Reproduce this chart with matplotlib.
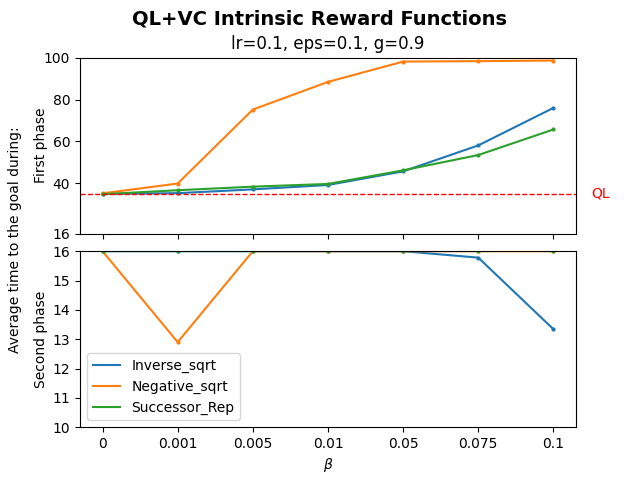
import numpy as np
import matplotlib
matplotlib.use("Agg")
import matplotlib.pyplot as plt

# beta values (categorical x axis)
betas = ['0', '0.001', '0.005', '0.01', '0.05', '0.075', '0.1']

# first phase: average time to goal
first_inverse = [34.9, 35.3, 37.1, 39.2, 45.7, 58.1, 76.0]
first_negative = [35.2, 39.9, 75.2, 88.4, 98.1, 98.3, 98.6]
first_successor = [34.8, 36.7, 38.4, 39.7, 46.2, 53.5, 65.7]

# second phase
second_inverse = [16, 16, 16, 16, 16, 15.78, 13.34]
second_negative = [16, 12.9, 16, 16, 16, 16, 16]
second_successor = [16, 16, 16, 16, 16, 16, 16]

ql_baseline = 35.1

names = ['Inverse_sqrt', 'Negative_sqrt', 'Successor_Rep']
colors = ['C0', 'C1', 'C2']
first = [first_inverse, first_negative, first_successor]
second = [second_inverse, second_negative, second_successor]

x = np.arange(len(betas))

fig, (ax1, ax2) = plt.subplots(2, 1, sharex=True, figsize=(6.4, 4.8), dpi=100)
fig.subplots_adjust(hspace=0.1)

for name, c, y1, y2 in zip(names, colors, first, second):
    ax1.plot(x, y1, color=c, label=name)
    ax1.plot(x, y1, 'o', color=c, markersize=2)
    ax2.plot(x, y2, color=c, label=name)
    ax2.plot(x, y2, 'o', color=c, markersize=2)

ax1.axhline(ql_baseline, color='red', linestyle='--', linewidth=1)
ax1.text(6.5, ql_baseline, 'QL', color='red', ha='left', va='center', fontsize=10)

ax1.set_ylim(16, 100)
ax1.set_yticks([16, 40, 60, 80, 100])
ax1.set_ylabel('First phase')
ax1.yaxis.set_label_coords(-0.065, 0.5)
ax1.set_title('lr=0.1, eps=0.1, g=0.9')

ax2.set_ylim(10, 16)
ax2.set_ylabel('Second phase')
ax2.yaxis.set_label_coords(-0.065, 0.5)
ax2.set_xticks(x)
ax2.set_xticklabels(betas)
ax2.set_xlabel(r'$\beta$')
ax2.legend(loc='lower left')

fig.suptitle('QL+VC Intrinsic Reward Functions', fontsize=14, fontweight='bold')
fig.text(0.023, 0.5, 'Average time to the goal during:', rotation=90,
         ha='center', va='center', fontsize=10)

fig.savefig('out.png')
